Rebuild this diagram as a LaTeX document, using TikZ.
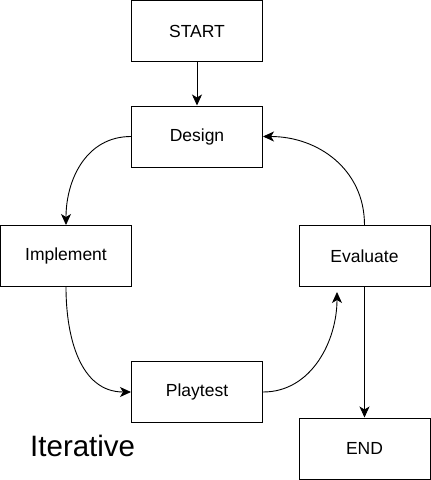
\documentclass[tikz,border=0pt]{standalone}
\usepackage{fontspec}
\setmainfont{Liberation Sans}
\usetikzlibrary{arrows.meta}
\begin{document}
\begin{tikzpicture}[x=1pt,y=-1pt,
  box/.style={draw=black,line width=1pt,minimum width=131pt,minimum height=61pt,inner sep=0pt,font=\fontsize{17.5}{21}\selectfont},
  conn/.style={line width=0.9pt,-{Stealth[length=11pt,width=10pt,inset=3pt]}}]
\useasboundingbox (0,0) rectangle (431,480);
\node[box] (start) at (197,31) {START};
\node[box] (design) at (197,136.5) {Design};
\node[box] (impl) at (66,256) {Implement};
\node[box] (eval) at (364.5,256) {Evaluate};
\node[box] (play) at (197,392) {Playtest};
\node[box] (end) at (364.5,448.5) {END};
\node[font=\fontsize{29.5}{34}\selectfont,anchor=base west,inner sep=0pt] (iter) at (30,456) {Iterative};
\draw[conn] (start) -- (design);
\draw[conn] (design.west) to[out=180,in=90,looseness=1.05] (impl.north);
\draw[conn] (impl.south) to[out=-90,in=180,looseness=1.05] (play.west);
\draw[conn] (play.east) to[out=0,in=-90,looseness=1.0] ([xshift=-27.5pt,yshift=-5pt]eval.south);
\draw[conn] (eval.north) to[out=90,in=0,looseness=1.05] (design.east);
\draw[conn] (eval.south) -- (end.north);
\end{tikzpicture}
\end{document}
